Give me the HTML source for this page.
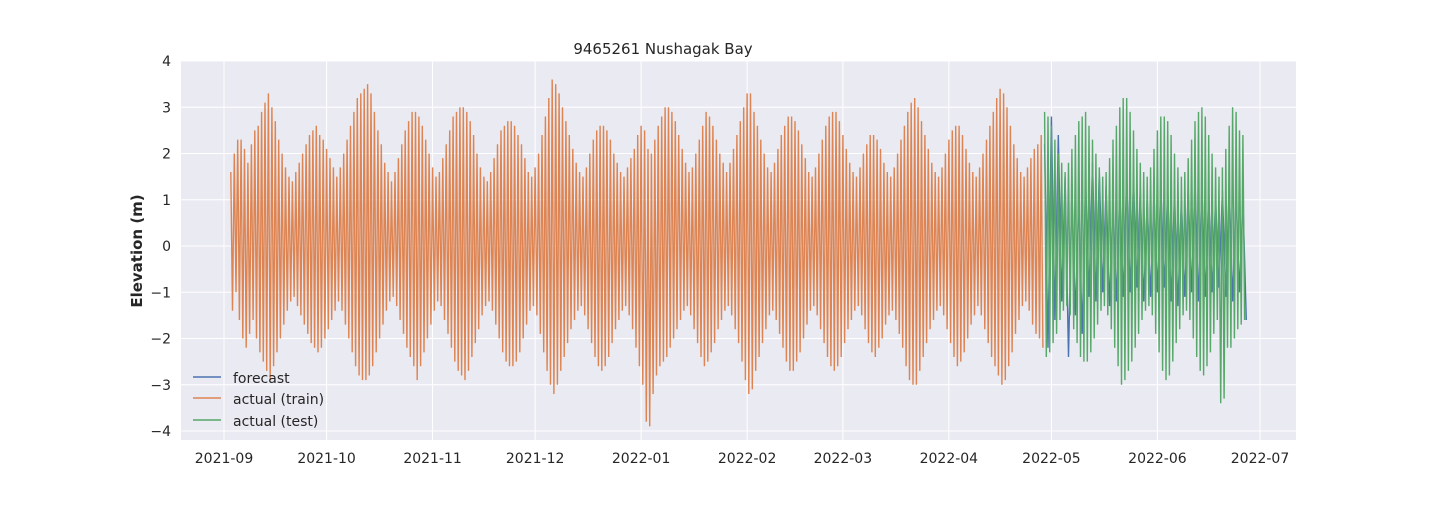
<!DOCTYPE html>
<html><head><meta charset="utf-8"><style>
html,body{margin:0;padding:0;background:#fff;}
svg text{font-family:"DejaVu Sans","Liberation Sans",sans-serif;fill:#262626;}
</style></head><body>
<svg id="chart" width="1440" height="504" viewBox="0 0 1440 504" xmlns="http://www.w3.org/2000/svg">
<rect x="181" y="61" width="1115" height="379" fill="#eaeaf2"/>
<g id="grid"></g>
<g id="series"></g>
<g id="ticks"></g>
<text x="663" y="54" text-anchor="middle" font-size="15">9465261 Nushagak Bay</text>
<text transform="translate(142,251) rotate(-90)" text-anchor="middle" font-size="15" font-weight="bold">Elevation (m)</text>
<g>
<line x1="193" y1="377" x2="221" y2="377" stroke="#4c72b0" stroke-width="1.5"/>
<text x="233" y="383" font-size="14">forecast</text>
<line x1="193" y1="398" x2="221" y2="398" stroke="#dd8452" stroke-width="1.5"/>
<text x="233" y="404" font-size="14">actual (train)</text>
<line x1="193" y1="420" x2="221" y2="420" stroke="#55a868" stroke-width="1.5"/>
<text x="233" y="426" font-size="14">actual (test)</text>
</g>
</svg>
<script>
const xTickLabels = ["2021-09","2021-10","2021-11","2021-12","2022-01","2022-02","2022-03","2022-04","2022-05","2022-06","2022-07"];
const xTickDays = [0,30,61,91,122,153,181,212,242,273,303];
const yTicks = [-4,-3,-2,-1,0,1,2,3,4];
const trainStartDay = 2;
const trainHigh = [1.6,2.0,2.3,2.3,2.1,1.8,2.2,2.5,2.6,2.9,3.1,
3.3,3.0,2.7,2.3,2.0,1.7,1.5,1.4,1.6,1.8,2.0,2.2,2.4,2.5,2.6,
2.4,2.3,2.1,1.9,1.7,1.5,1.7,2.0,2.3,2.6,2.9,3.2,3.3,3.4,
3.5,3.3,2.9,2.5,2.2,1.8,1.6,1.4,1.6,1.9,2.2,2.5,2.7,2.9,2.9,
2.8,2.6,2.3,2.0,1.7,1.5,1.6,1.9,2.2,2.5,2.8,2.9,3.0,3.0,2.9,
2.7,2.4,2.0,1.7,1.5,1.4,1.6,1.9,2.2,2.5,2.6,2.7,2.7,2.6,2.4,
2.2,1.9,1.6,1.5,1.7,2.0,2.4,2.8,3.2,3.6,3.5,3.3,3.0,2.7,2.4,
2.1,1.8,1.6,1.5,1.7,2.0,2.3,2.5,2.6,2.6,2.5,2.3,2.0,1.8,1.6,
1.5,1.7,1.9,2.1,2.4,2.6,2.5,2.1,2.0,2.3,2.6,2.8,3.0,3.0,2.9,
2.7,2.4,2.1,1.8,1.6,1.7,2.0,2.3,2.6,2.9,2.8,2.6,2.3,2.0,1.8,
1.6,1.8,2.1,2.4,2.7,3.0,3.3,3.3,2.9,2.6,2.3,2.0,1.7,1.6,1.8,
2.1,2.4,2.6,2.8,2.8,2.7,2.5,2.2,1.9,1.6,1.5,1.7,2.0,2.3,2.6,
2.8,2.9,2.9,2.7,2.4,2.1,1.8,1.6,1.5,1.7,2.0,2.2,2.4,2.4,2.3,
2.1,1.8,1.6,1.5,1.7,2.0,2.3,2.6,2.9,3.1,3.2,3.0,2.7,2.4,2.1,
1.8,1.6,1.5,1.7,2.0,2.3,2.5,2.6,2.6,2.4,2.1,1.8,1.6,1.5,1.7,
2.0,2.3,2.6,2.9,3.2,3.4,3.3,3.0,2.6,2.2,1.9,1.6,1.5,1.7,1.9,
2.1,2.2,2.4];
const trainLow = [-1.4,-1.0,-1.6,-2.0,-2.2,-1.9,-1.6,-2.0,-2.3,-2.5,-2.7,
-2.9,-2.6,-2.3,-2.0,-1.7,-1.4,-1.2,-1.1,-1.3,-1.5,-1.7,-1.9,-2.1,-2.2,-2.3,
-2.2,-2.0,-1.8,-1.6,-1.4,-1.2,-1.4,-1.7,-2.0,-2.3,-2.6,-2.8,-2.9,-2.9,
-2.8,-2.6,-2.3,-2.0,-1.7,-1.4,-1.2,-1.1,-1.3,-1.6,-1.9,-2.2,-2.4,-2.6,-2.9,
-2.6,-2.3,-2.0,-1.7,-1.4,-1.2,-1.3,-1.6,-1.9,-2.2,-2.5,-2.7,-2.8,-2.9,-2.7,
-2.4,-2.1,-1.8,-1.5,-1.3,-1.2,-1.4,-1.7,-2.0,-2.3,-2.5,-2.6,-2.6,-2.5,-2.3,
-2.0,-1.7,-1.4,-1.3,-1.5,-1.9,-2.3,-2.7,-3.0,-3.2,-3.0,-2.7,-2.4,-2.1,-1.8,
-1.6,-1.4,-1.3,-1.5,-1.8,-2.1,-2.4,-2.6,-2.7,-2.6,-2.4,-2.1,-1.8,-1.6,-1.4,
-1.3,-1.5,-1.8,-2.2,-2.6,-3.0,-3.8,-3.9,-3.2,-2.8,-2.6,-2.5,-2.4,-2.2,-2.0,
-1.8,-1.6,-1.4,-1.3,-1.5,-1.8,-2.1,-2.4,-2.6,-2.5,-2.3,-2.1,-1.8,-1.6,-1.4,
-1.3,-1.5,-1.8,-2.1,-2.5,-2.9,-3.2,-3.1,-2.7,-2.4,-2.1,-1.8,-1.5,-1.4,-1.6,
-1.9,-2.2,-2.5,-2.7,-2.7,-2.5,-2.3,-2.0,-1.7,-1.4,-1.3,-1.5,-1.8,-2.1,-2.4,
-2.6,-2.7,-2.6,-2.4,-2.1,-1.8,-1.6,-1.4,-1.3,-1.5,-1.8,-2.1,-2.3,-2.4,-2.2,
-2.0,-1.7,-1.5,-1.4,-1.6,-1.9,-2.2,-2.6,-2.9,-3.0,-3.0,-2.7,-2.4,-2.1,-1.8,
-1.6,-1.4,-1.3,-1.5,-1.8,-2.1,-2.4,-2.6,-2.5,-2.3,-2.0,-1.7,-1.5,-1.3,-1.5,
-1.8,-2.1,-2.4,-2.6,-2.8,-3.0,-2.9,-2.6,-2.3,-1.9,-1.6,-1.3,-1.2,-1.4,-1.7,
-1.9,-2.0,-2.2];
const testStartDay = 240;
const testHigh = [2.9,2.8,2.6,2.3,2.0,1.8,1.6,1.8,2.1,2.4,2.7,2.8,2.9,2.6,2.3,2.0,1.7,1.5,1.6,1.9,2.3,2.6,3.0,3.2,3.2,2.9,2.5,2.1,1.8,1.6,1.5,1.7,2.1,2.5,2.8,2.8,2.7,2.4,2.0,1.7,1.5,1.6,1.9,2.3,2.7,2.9,3.0,2.8,2.4,2.0,1.7,1.5,1.7,2.1,2.6,3.0,2.9,2.5,2.4];
const testLow = [-2.4,-2.3,-2.1,-1.9,-1.6,-1.4,-1.3,-1.5,-1.8,-2.1,-2.4,-2.5,-2.5,-2.3,-2.0,-1.7,-1.4,-1.3,-1.5,-1.8,-2.2,-2.6,-3.0,-2.9,-2.7,-2.5,-2.2,-1.9,-1.6,-1.4,-1.3,-1.5,-1.9,-2.3,-2.7,-2.9,-2.8,-2.5,-2.1,-1.8,-1.5,-1.4,-1.6,-2.0,-2.4,-2.7,-2.8,-2.6,-2.3,-1.9,-1.6,-3.4,-3.3,-2.2,-2.2,-2.0,-1.8,-1.7,-1.6];
const forecastStartDay = 240;
const forecastStep = 2;
const forecastHigh = [2.2,2.8,2.4,1.5,1.2,1.0,1.4,1.8,1.6,1.3,1.0,1.2,1.5,1.4,1.2,1.0,1.1,1.3,1.2,1.1,1.0,1.2,1.4,1.3,1.1,1.0,1.2,1.3,1.1,1.0];
const forecastLow = [-2.2,-1.6,-1.2,-2.4,-1.5,-1.9,-1.1,-1.2,-1.0,-1.3,-1.2,-1.1,-1.0,-0.9,-1.2,-1.1,-1.0,-0.9,-1.2,-1.3,-1.1,-1.0,-1.2,-1.1,-1.0,-0.9,-1.1,-1.2,-1.0,-1.6];

const NS="http://www.w3.org/2000/svg";
function xS(d){return 224 + d*(1260-224)/303;}
function yS(v){return 246 - v*46.25;}
const grid=document.getElementById('grid');
const ticks=document.getElementById('ticks');
function mk(tag,attrs,parent){const e=document.createElementNS(NS,tag);for(const k in attrs)e.setAttribute(k,attrs[k]);parent.appendChild(e);return e;}
xTickDays.forEach((d,i)=>{
  const l=mk('line',{x1:xS(d),x2:xS(d),y1:61,y2:440,stroke:'#fff','stroke-width':1},grid);
  
  
  const t=mk('text',{x:xS(d),y:463,'text-anchor':'middle','font-size':14},ticks);
  t.textContent=xTickLabels[i];
  
  
});
yTicks.forEach(v=>{
  const l=mk('line',{x1:181,x2:1296,y1:yS(v),y2:yS(v),stroke:'#fff','stroke-width':1},grid);
  
  
  const t=mk('text',{x:171,y:yS(v)+5,'text-anchor':'end','font-size':14},ticks);
  t.textContent=(v<0?'\u2212'+(-v):String(v));
  
  
});
function zig(start,step,hi,lo){
  let p='';
  for(let i=0;i<hi.length;i++){
    const d=start+i*step;
    p+=(i?'L':'M')+xS(d).toFixed(1)+','+yS(hi[i]).toFixed(1);
    if(i<lo.length)p+='L'+xS(d+step/2).toFixed(1)+','+yS(lo[i]).toFixed(1);
  }
  return p;
}
const series=document.getElementById('series');
const ptr=mk('path',{d:zig(trainStartDay,1,trainHigh,trainLow),fill:'none',stroke:'#dd8452','stroke-width':1.4},series);


const pf=mk('path',{d:zig(forecastStartDay,forecastStep,forecastHigh,forecastLow),fill:'none',stroke:'#4c72b0','stroke-width':1.4},series);


const pt=mk('path',{d:zig(testStartDay,1,testHigh,testLow),fill:'none',stroke:'#55a868','stroke-width':1.4},series);


</script>
</body></html>
